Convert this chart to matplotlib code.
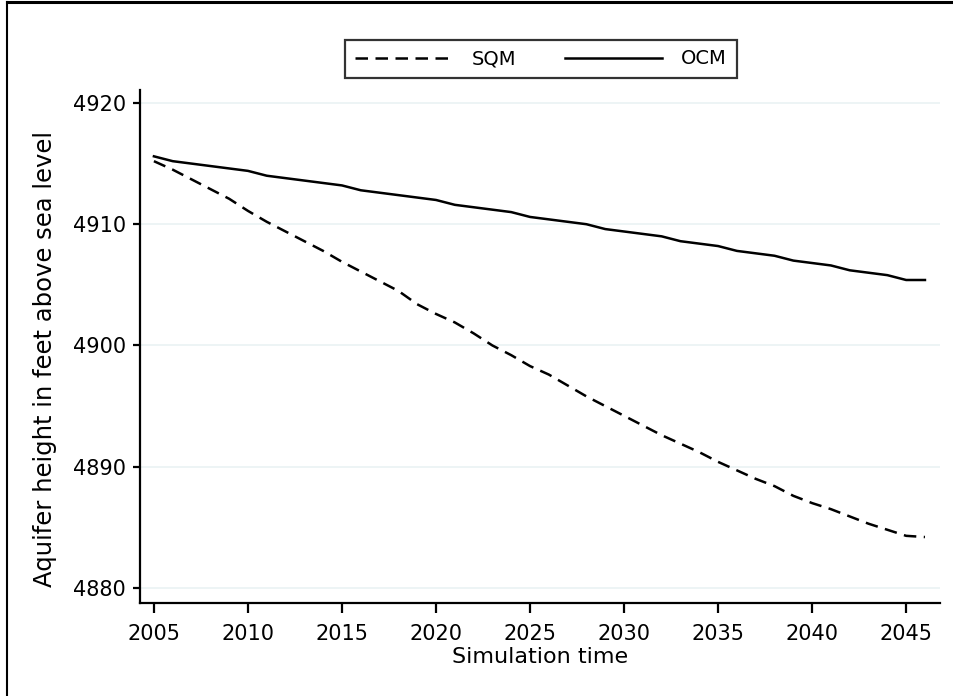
import matplotlib
matplotlib.use("Agg")
import matplotlib.pyplot as plt
from matplotlib.lines import Line2D

years = list(range(2005, 2047))
sqm = [4915.2, 4914.5, 4913.7, 4912.9, 4912.1, 4911.1, 4910.2, 4909.4, 4908.6, 4907.8,
       4906.9, 4906.1, 4905.3, 4904.5, 4903.4, 4902.6, 4901.9, 4901.0, 4900.0, 4899.2,
       4898.3, 4897.6, 4896.7, 4895.8, 4895.0, 4894.2, 4893.4, 4892.6, 4891.9, 4891.2,
       4890.4, 4889.7, 4889.0, 4888.4, 4887.6, 4887.0, 4886.5, 4885.9, 4885.3, 4884.8,
       4884.3, 4884.2]
ocm = [4915.6, 4915.2, 4915.0, 4914.8, 4914.6, 4914.4, 4914.0, 4913.8, 4913.6, 4913.4,
       4913.2, 4912.8, 4912.6, 4912.4, 4912.2, 4912.0, 4911.6, 4911.4, 4911.2, 4911.0,
       4910.6, 4910.4, 4910.2, 4910.0, 4909.6, 4909.4, 4909.2, 4909.0, 4908.6, 4908.4,
       4908.2, 4907.8, 4907.6, 4907.4, 4907.0, 4906.8, 4906.6, 4906.2, 4906.0, 4905.8,
       4905.4, 4905.4]
xticks = list(range(2005, 2046, 5))
yticks = [4880, 4890, 4900, 4910, 4920]

plt.rcParams['font.family'] = ['DejaVu Sans']
W, H = 954, 696
fig = plt.figure(figsize=(W/100, H/100), dpi=100)
ax = fig.add_axes([140/W, 1-603/H, 800/W, 513/H])

ax.plot(years, sqm, color='black', lw=1.8, dashes=(5, 3), label='SQM')
ax.plot(years, ocm, color='black', lw=1.8, label='OCM')

ax.set_xlim(2004.26, 2046.8)
ax.set_ylim(4878.76, 4921.07)
ax.set_xticks(xticks)
ax.set_yticks(yticks)
ax.grid(axis='y', color='#eaf2f3', lw=1.2)
ax.set_axisbelow(True)
for s in ['top', 'right']:
    ax.spines[s].set_visible(False)
for s in ['left', 'bottom']:
    ax.spines[s].set_linewidth(1.6)
ax.tick_params(axis='y', length=5, width=1.6, labelsize=15, pad=5)
ax.tick_params(axis='x', length=7, width=1.6, labelsize=15, pad=8)

ax.set_xlabel('Simulation time', fontsize=16)
ax.set_ylabel('Aquifer height in feet above sea level', fontsize=17.5)
ax.xaxis.set_label_coords(0.5, -0.085)
ax.yaxis.set_label_coords(-0.104, 0.475)

leg = fig.legend(loc='center', bbox_to_anchor=(541/W, 1-59/H), ncol=2, fontsize=14,
                 frameon=True, fancybox=False, edgecolor='black', handlelength=5,
                 columnspacing=2.5, handletextpad=1.0, borderpad=0.5)
leg.get_frame().set_linewidth(1.6)

fig.add_artist(Line2D([7/W, 1], [1-1.5/H, 1-1.5/H], color='black', lw=2.2, transform=fig.transFigure))
fig.add_artist(Line2D([7/W, 7/W], [0, 1-1.5/H], color='black', lw=1.5, transform=fig.transFigure))

fig.savefig('out.png', dpi=100)
